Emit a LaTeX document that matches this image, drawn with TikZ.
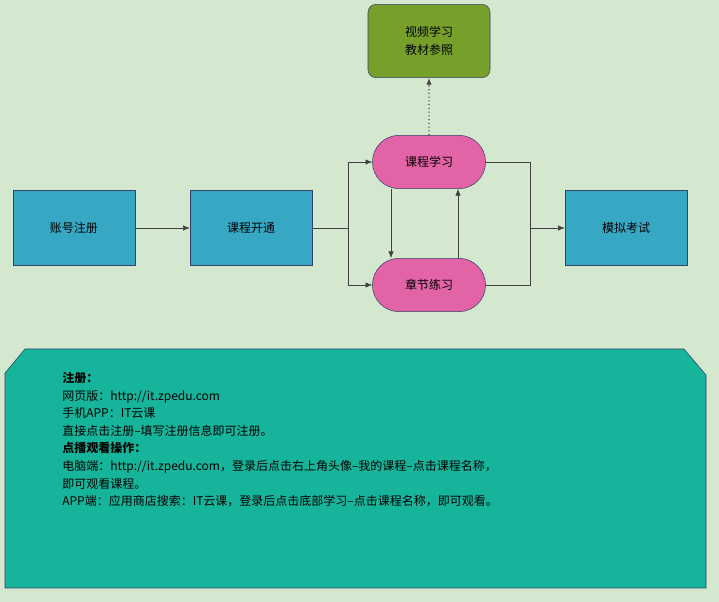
\documentclass[tikz,border=0pt]{standalone}
\usepackage{fontspec}
\setmainfont{Noto Sans CJK SC}
\usetikzlibrary{positioning,shapes.misc,arrows.meta}
\definecolor{bgcol}{HTML}{D3E8CE}
\definecolor{boxcol}{HTML}{36A8C4}
\definecolor{pinkcol}{HTML}{E263A6}
\definecolor{greencol}{HTML}{76A02A}
\definecolor{panelcol}{HTML}{16B59B}
\definecolor{edgecol}{HTML}{34406A}
\tikzset{
  stepbox/.style={draw=edgecol,fill=boxcol,minimum width=91.5pt,minimum height=56pt,font=\small},
  pill/.style={draw=edgecol,fill=pinkcol,rounded rectangle,minimum width=91.5pt,minimum height=40pt,font=\small},
  refbox/.style={draw=edgecol,fill=greencol,rounded corners=6pt,minimum width=91.5pt,minimum height=55pt,align=center,font=\small},
  link/.style={draw=black!75,-{Latex[length=5pt,width=4pt]}},
}
\begin{document}
\begin{tikzpicture}[x=0.75pt,y=-0.75pt]
\fill[bgcol] (0,0) rectangle (719,602);
\useasboundingbox (0,0) rectangle (719,602);
% flow
\node[stepbox] (reg) at (74,228) {账号注册};
\node[stepbox] (open) at (251,228) {课程开通};
\node[pill] (learn) at (429,162) {课程学习};
\node[pill] (drill) at (429,285) {章节练习};
\node[stepbox] (exam) at (626,228) {模拟考试};
\node[refbox] (video) at (429,41) {视频学习\\[2pt]教材参照};
\coordinate (split) at (348,228);
\coordinate (join) at (530,228);
\draw[link] (reg) -- (open);
\draw[black!75] (open) -- (split);
\draw[link] (split) |- (learn);
\draw[link] (split) |- (drill);
\draw[link] (learn.south -| 391,0) -- (drill.north -| 391,0);
\draw[link] (drill.north -| 458,0) -- (learn.south -| 458,0);
\draw[black!75] (learn) -| (join);
\draw[black!75] (drill) -| (join);
\draw[link] (join) -- (exam);
\draw[link,dotted,thick] (learn) -- (video);
% notes
\draw[edgecol,fill=panelcol] (5,373) -- (25,349) -- (684,349) -- (706,375) -- (706,588) -- (5,588) -- cycle;
\node[anchor=north west,align=left,font=\small,inner sep=0pt] (notes) at (62,372) {%
\textbf{注册：}\\[2.2pt]
网页版：http://it.zpedu.com\\[2.2pt]
手机APP：IT云课\\[2.2pt]
直接点击注册--填写注册信息即可注册。\\[2.2pt]
\textbf{点播观看操作：}\\[2.2pt]
电脑端：http://it.zpedu.com，登录后点击右上角头像--我的课程--点击课程名称，\\[2.2pt]
即可观看课程。\\[2.2pt]
APP端：应用商店搜索：IT云课，登录后点击底部学习--点击课程名称，即可观看。};
\end{tikzpicture}
\end{document}
